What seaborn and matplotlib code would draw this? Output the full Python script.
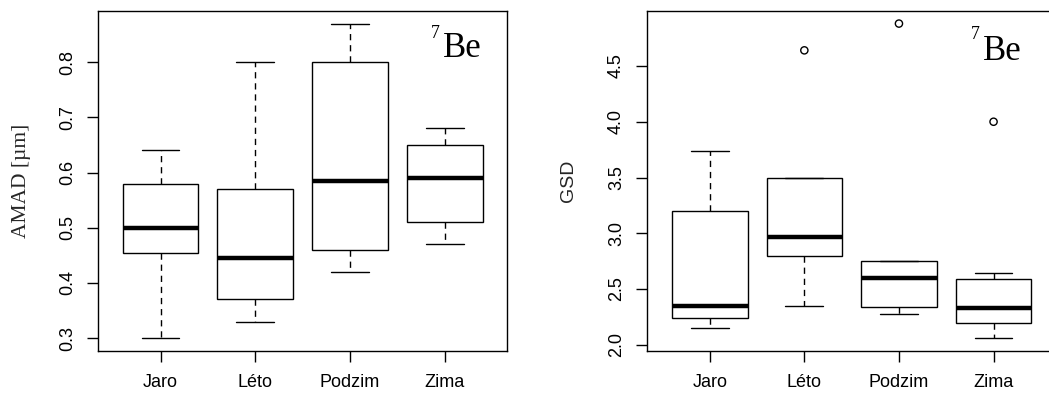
import numpy as np
import pandas as pd
import matplotlib
matplotlib.use("Agg")
import matplotlib.pyplot as plt
import seaborn as sns

# ---- data (five-number summaries) ----
seasons = ["Jaro", "Léto", "Podzim", "Zima"]

amad_min = [0.30, 0.33, 0.42, 0.47]
amad_q1 = [0.455, 0.37, 0.46, 0.51]
amad_med = [0.50, 0.445, 0.585, 0.59]
amad_q3 = [0.58, 0.57, 0.80, 0.65]
amad_max = [0.64, 0.80, 0.87, 0.68]

gsd_min = [2.15, 2.35, 2.28, 2.06]
gsd_q1 = [2.24, 2.80, 2.34, 2.20]
gsd_med = [2.35, 2.97, 2.60, 2.33]
gsd_q3 = [3.20, 3.50, 2.75, 2.59]
gsd_max = [3.74, 3.50, 2.75, 2.64]

gsd_out_season = ["Léto", "Podzim", "Zima"]
gsd_out_value = [4.64, 4.88, 4.00]

amad_ticks = [0.3, 0.4, 0.5, 0.6, 0.7, 0.8]
gsd_ticks = [2.0, 2.5, 3.0, 3.5, 4.0, 4.5]


def long_frame(mins, q1s, meds, q3s, maxs):
    rows = []
    for s, a, b, c, d, e in zip(seasons, mins, q1s, meds, q3s, maxs):
        for v in (a, b, c, d, e):
            rows.append((s, v))
    return pd.DataFrame(rows, columns=["season", "value"])


amad_df = long_frame(amad_min, amad_q1, amad_med, amad_q3, amad_max)
gsd_df = long_frame(gsd_min, gsd_q1, gsd_med, gsd_q3, gsd_max)
out_df = pd.DataFrame({"season": gsd_out_season, "value": gsd_out_value})

sns.set_style("ticks")
plt.rcParams["font.family"] = ["Liberation Sans", "DejaVu Sans"]

W, H = 1049, 396
fig = plt.figure(figsize=(W / 100, H / 100), dpi=100)
fig.patch.set_facecolor("white")

top_px, bot_px = 11, 350.7
ax1 = fig.add_axes([98 / W, 1 - bot_px / H, 409.3 / W, (bot_px - top_px) / H])
ax2 = fig.add_axes([647.3 / W, 1 - bot_px / H, 408.7 / W, (bot_px - top_px) / H])

box_kw = dict(
    x="season", y="value", order=seasons, color="white", linecolor="black",
    linewidth=1.0, width=0.8, whis=(0, 100), showfliers=False,
    medianprops=dict(linewidth=3.2, color="black"),
    whiskerprops=dict(linestyle=(0, (4.5, 3.5)), color="black"),
    capprops=dict(color="black"),
)

sns.boxplot(data=amad_df, ax=ax1, **box_kw)
sns.boxplot(data=gsd_df, ax=ax2, **box_kw)
n_before = len(ax2.collections)
sns.stripplot(data=out_df, x="season", y="value", order=seasons, ax=ax2,
              jitter=False, size=5.2, marker="o", color="black")
for coll in ax2.collections[n_before:]:
    coll.set_facecolor("none")
    coll.set_edgecolor("black")
    coll.set_linewidth(1.0)


def r_range(vals):
    lo, hi = min(vals), max(vals)
    r = hi - lo
    return lo - 0.04 * r, hi + 0.04 * r


for ax, vals, ticks, fmt in (
    (ax1, amad_min + amad_max, amad_ticks, "{:.1f}"),
    (ax2, gsd_min + gsd_max + gsd_out_value, gsd_ticks, "{:.1f}"),
):
    ax.set_xlim(-0.66, 3.66)
    ax.set_ylim(*r_range(vals))
    ax.set_yticks(ticks)
    ax.set_yticklabels([fmt.format(t) for t in ticks])
    ax.set_xticks(range(len(seasons)))
    ax.set_xticklabels(seasons)
    ax.set_xlabel("")
    for sp in ax.spines.values():
        sp.set_visible(True)
        sp.set_color("black")
        sp.set_linewidth(1.0)
    ax.tick_params(axis="both", length=8, width=1, color="black",
                   labelsize=13, labelcolor="black")
    ax.tick_params(axis="x", pad=8.5)
    ax.tick_params(axis="y", pad=8)
    for lab in ax.get_yticklabels():
        lab.set_rotation(90)
        lab.set_va("center")
        lab.set_ha("right")
    ax.grid(False)

ax1.set_ylabel("AMAD [µm]", fontsize=15.5, va="center",
               family=["Liberation Serif", "DejaVu Serif"])
ax1.yaxis.set_label_coords(-0.186, 0.5)
ax2.set_ylabel("GSD", fontsize=14, va="center")
ax2.yaxis.set_label_coords(-0.1916, 0.5)

serif = ["Liberation Serif", "DejaVu Serif"]
for ax, bx, by, sx, sy in ((ax1, 0.843, 0.8655, 0.835, 0.9196),
                           (ax2, 0.8207, 0.857, 0.814, 0.9176)):
    ax.text(bx, by, "Be", transform=ax.transAxes, fontsize=25,
            family=serif, ha="left", va="baseline", color="black")
    ax.text(sx, sy, "7", transform=ax.transAxes, fontsize=13,
            family=serif, ha="right", va="baseline", color="black")

fig.savefig("out.png", dpi=100, facecolor="white")
